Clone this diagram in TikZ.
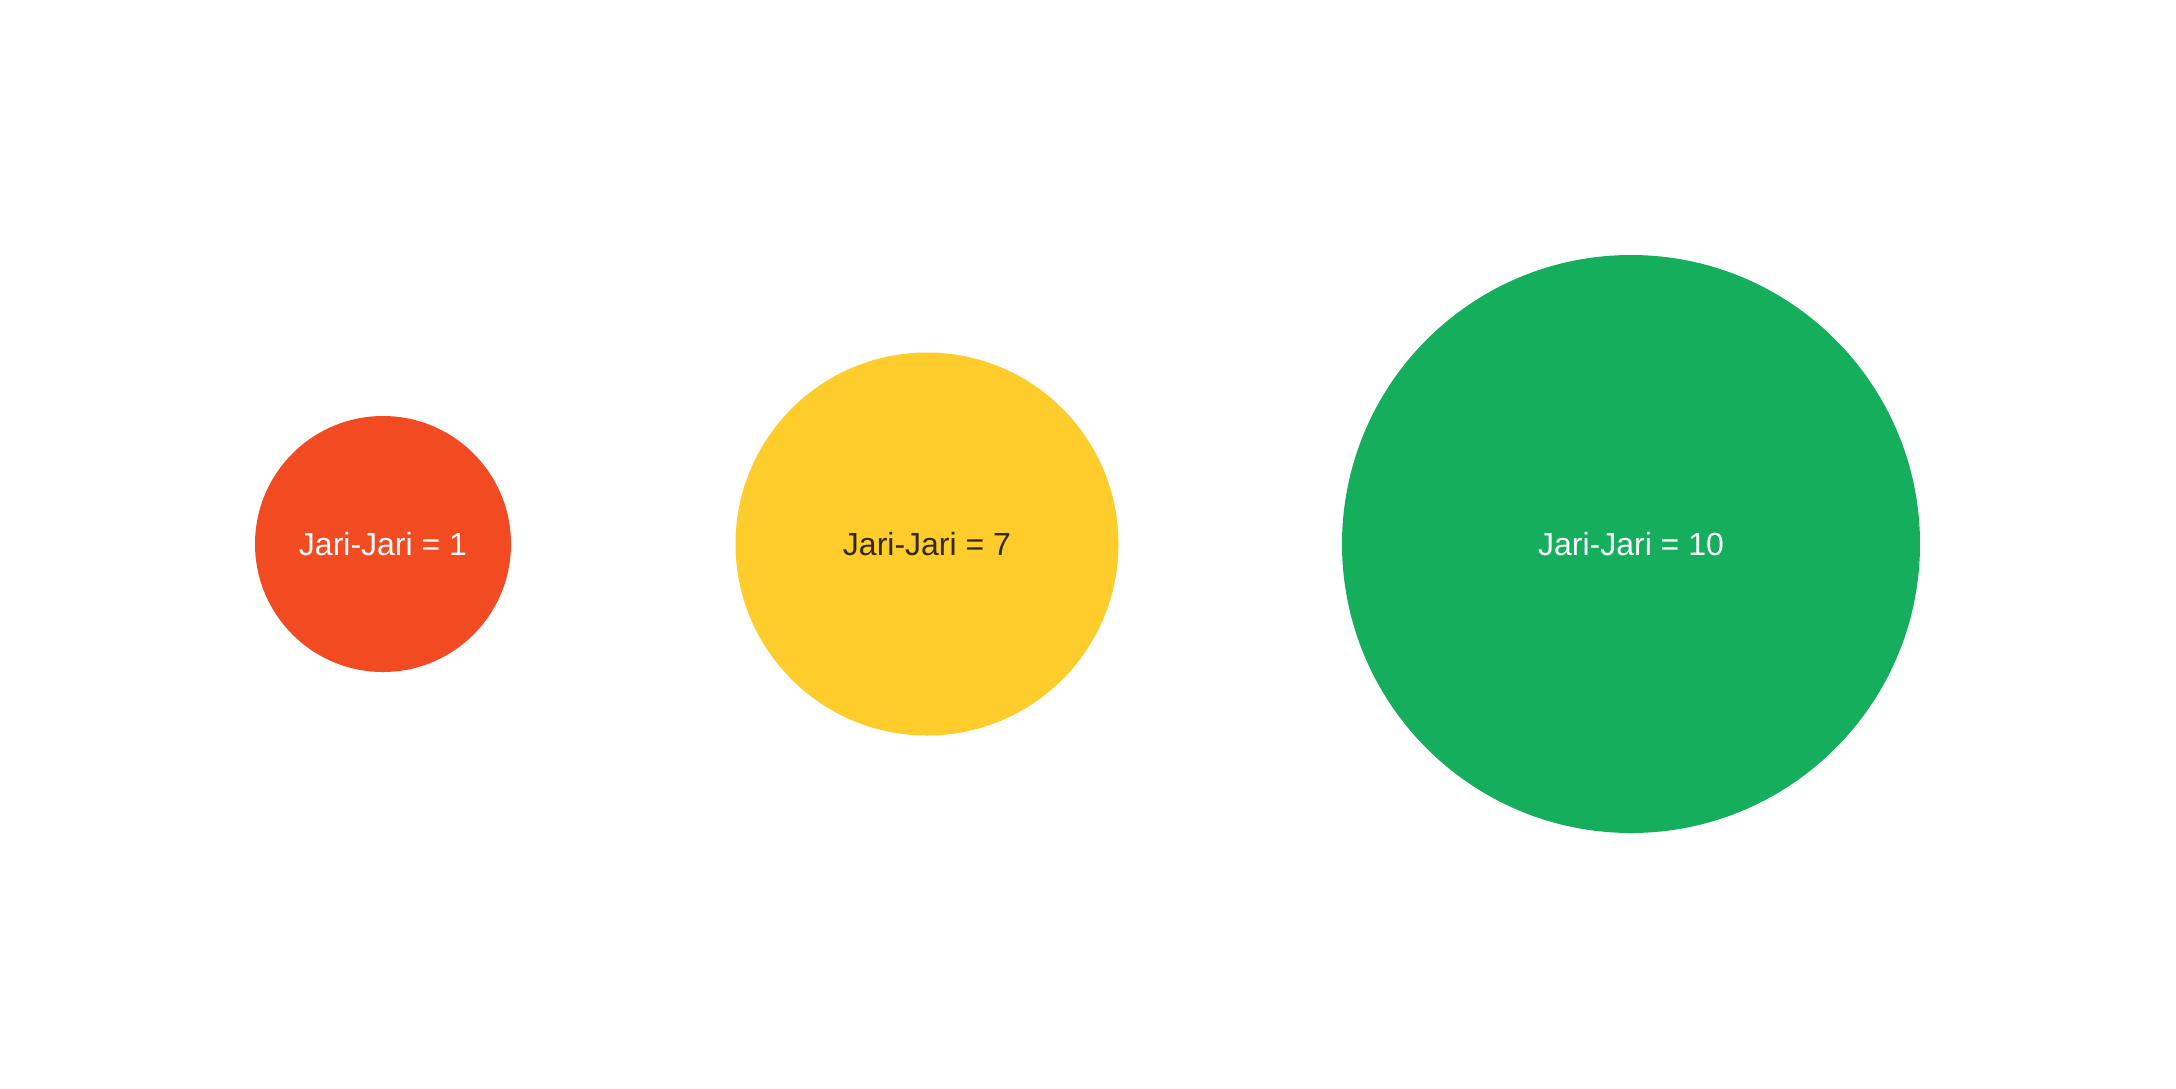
\documentclass[tikz,border=0pt]{standalone}
\usepackage{fontspec}
\setmainfont{Liberation Sans}
\definecolor{cred}{HTML}{F24B22}
\definecolor{cyel}{HTML}{FECD2C}
\definecolor{cgrn}{HTML}{15AE5D}
\definecolor{cdark}{HTML}{33290A}
\begin{document}
\begin{tikzpicture}[x=1pt,y=-1pt,
  disc/.style={circle,inner sep=0pt,minimum size=#1,draw=none},
  lbl/.style={font=\fontsize{32}{38}\selectfont,inner sep=0pt}]
\useasboundingbox (0,0) rectangle (2176,1088);
\fill[white] (0,0) rectangle (2176,1088);
\node[disc=256pt,fill=cred] (r) at (383,544) {};
\node[disc=383pt,fill=cyel] (y) at (927,544) {};
\node[disc=578pt,fill=cgrn] (g) at (1631,544) {};
\node[lbl,text=white] (rt) at (r.center) {Jari-Jari = 1};
\node[lbl,text=cdark] (yt) at (y.center) {Jari-Jari = 7};
\node[lbl,text=white] (gt) at (g.center) {Jari-Jari = 10};
\end{tikzpicture}
\end{document}
